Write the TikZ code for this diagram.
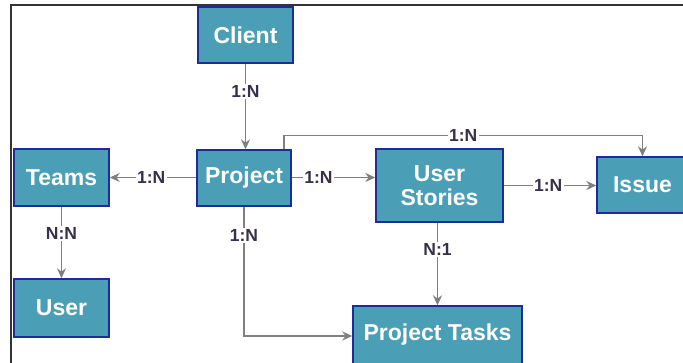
\documentclass[tikz,border=0pt]{standalone}
\usepackage{fontspec}
\setmainfont{Liberation Sans}
\usetikzlibrary{arrows.meta}
\definecolor{boxfill}{HTML}{4A9FB6}
\definecolor{boxline}{HTML}{1E2C9A}
\definecolor{conncol}{HTML}{7F7F7F}
\definecolor{lblcol}{HTML}{383048}
\definecolor{framecol}{HTML}{333333}
\tikzset{
  entity/.style={draw=boxline, line width=1.4pt, fill=boxfill, text=white,
    font=\fontsize{23}{26}\selectfont\bfseries, inner sep=0pt, align=center},
  conn/.style={draw=conncol, line width=1.5pt, -{Stealth[length=10pt,width=9pt]}},
  lbl/.style={fill=white, text=lblcol, inner sep=1.5pt,
    font=\fontsize{17.5}{20}\selectfont\bfseries}
}
\begin{document}
\begin{tikzpicture}[x=1pt,y=-1pt]
\useasboundingbox (0,0) rectangle (683,362);
\draw[framecol, line width=1.2pt] (11,370) -- (11,5) -- (690,5);

\node[entity, minimum width=95pt, minimum height=56pt] (client) at (245.5,35) {Client};
\node[entity, minimum width=94pt, minimum height=56pt] (project) at (244,178) {Project};
\node[entity, minimum width=95pt, minimum height=57pt] (teams) at (61.5,177.5) {Teams};
\node[entity, minimum width=95pt, minimum height=58pt] (user) at (61.5,308) {User};
\node[entity, minimum width=127pt, minimum height=73pt] (us) at (439.5,185.5) {User\\[-2pt]Stories};
\node[entity, minimum width=91pt, minimum height=56pt] (issue) at (642.5,185) {Issue};
\node[entity, minimum width=169pt, minimum height=58pt] (pt) at (437.5,335) {Project Tasks};

\draw[conn] (client.south) -- node[lbl, pos=0.33]{1:N} (client.south |- project.north);
\draw[conn] ([xshift=40pt]project.north) -- ++(0,-14) -| node[lbl, pos=0.25]{1:N} (issue.north);
\draw[conn] ([yshift=0.5pt]project.west) -- node[lbl, pos=0.52]{1:N} ([yshift=0.5pt]project.west -| teams.east);
\draw[conn] ([yshift=0.5pt]project.east) -- node[lbl, pos=0.32]{1:N} ([yshift=0.5pt]project.east -| us.west);
\draw[conn] (us.east) -- node[lbl, pos=0.48]{1:N} (us.east -| issue.west);
\draw[conn] (teams.south) -- node[lbl, pos=0.38]{N:N} (user.north);
\draw[conn] (project.south) |- node[lbl, pos=0.113]{1:N} ([yshift=-1pt]pt.west);
\draw[conn] ([xshift=-2pt]us.south) -- node[lbl, pos=0.33]{N:1} ([xshift=-2pt]us.south |- pt.north);
\end{tikzpicture}
\end{document}
